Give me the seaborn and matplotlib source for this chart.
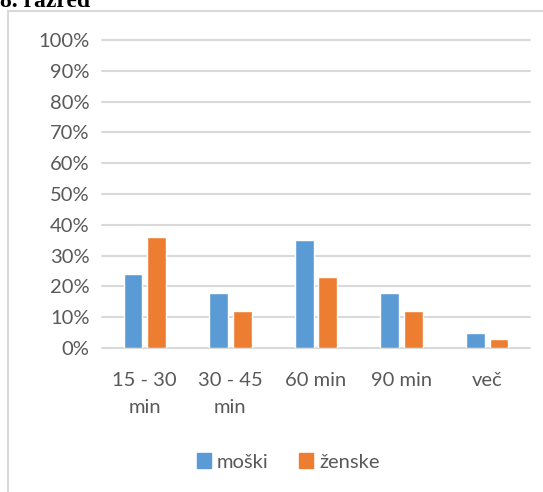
import matplotlib
matplotlib.use("Agg")
import matplotlib.pyplot as plt
from matplotlib.patches import Rectangle
import seaborn as sns
import pandas as pd

# Share of pupils by time spent, split by gender
categories = ["15 - 30\nmin", "30 - 45\nmin", "60 min", "90 min", "več"]
moski = [24, 18, 35, 18, 5]
zenske = [36, 12, 23, 12, 3]
series_names = ["moški", "ženske"]
tick_values = [0, 10, 20, 30, 40, 50, 60, 70, 80, 90, 100]
title_text = "8. razred"

df = pd.DataFrame({
    "kategorija": categories * 2,
    "delež": [v / 100 for v in moski + zenske],
    "spol": [series_names[0]] * len(categories) + [series_names[1]] * len(categories),
})

sns.set_theme(style="white")
plt.rcParams["font.family"] = ["Lato", "DejaVu Sans"]

W, H = 543, 492
fig = plt.figure(figsize=(W / 100, H / 100), dpi=100)
ax = fig.add_axes([102 / W, 1 - 348 / H, (530 - 102) / W, (348 - 40) / H])

palette = {"moški": "#5b9bd5", "ženske": "#ed7d31"}
sns.barplot(data=df, x="kategorija", y="delež", hue="spol", order=categories,
            hue_order=series_names, palette=palette, width=0.55, gap=0.2,
            saturation=1, legend=False, ax=ax, zorder=3)

text_color = "#595959"
grid_color = "#d9d9d9"
fs = 14.5

ax.set_ylim(0, 1)
ax.set_xlim(-0.5, len(categories) - 0.5)
ax.set_yticks([t / 100 for t in tick_values])
ax.set_yticklabels([f"{t}%" for t in tick_values])
ax.yaxis.grid(True, color=grid_color, linewidth=1.5, zorder=0)
for gl in ax.get_ygridlines():
    gl.set_clip_on(False)
ax.set_axisbelow(True)
for s in ax.spines.values():
    s.set_visible(False)
ax.set_xlabel("")
ax.set_ylabel("")
ax.tick_params(axis="y", length=0, pad=9, labelsize=fs, labelcolor=text_color)
ax.tick_params(axis="x", length=0, pad=17, labelsize=fs, labelcolor=text_color)
for lbl in ax.get_xticklabels():
    lbl.set_linespacing(1.75)

# Outer chart frame
fig.patches.append(Rectangle((8 / W, -0.05), 1.2, 1 - 11 / H + 0.05,
                             transform=fig.transFigure, fill=False,
                             edgecolor=grid_color, linewidth=1.5))

# Title cut at the upper edge
fig.text(0, 1 - 7 / H, title_text, family=["Liberation Serif"],
         fontweight="bold", fontsize=17, color="black", va="baseline", ha="left")

# Legend
handles = [Rectangle((0, 0), 1, 1, color=palette[n]) for n in series_names]
fig.legend(handles, series_names, loc="center", bbox_to_anchor=(0.531, 1 - 462 / H),
           ncol=2, frameon=False, fontsize=fs, labelcolor=text_color,
           handlelength=0.7, handleheight=0.7, handletextpad=0.3, columnspacing=1.5)

fig.savefig("out.png", dpi=100)
